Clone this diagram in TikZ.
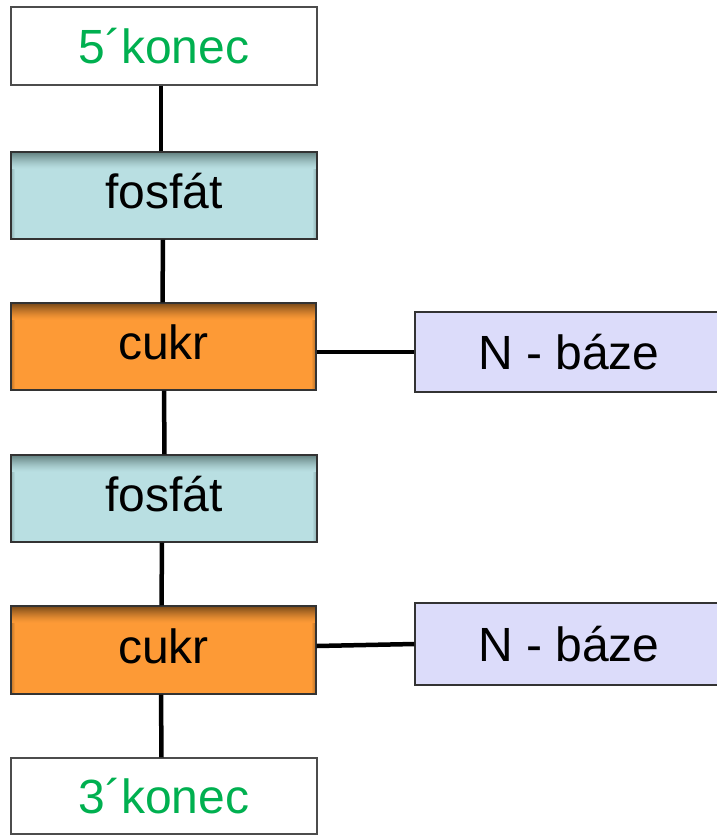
\documentclass[tikz,border=0pt]{standalone}
\usepackage{fontspec}
\setmainfont{Liberation Sans}
\definecolor{kgreen}{HTML}{00B050}
\definecolor{fosfill}{HTML}{B9DFE2}
\definecolor{fostop}{HTML}{62807F}
\definecolor{cukfill}{HTML}{FD9A36}
\definecolor{cuktop}{HTML}{774818}
\definecolor{nbfill}{HTML}{DCDCFA}
\definecolor{edgegray}{HTML}{333333}
\begin{document}
\begin{tikzpicture}[x=1pt,y=-1pt,
  box/.style={draw=edgegray, line width=1.2pt, rectangle, inner sep=0pt,
    font=\fontsize{48}{48}\selectfont, text height=35pt, text depth=0pt},
  endbox/.style={box, fill=white, text=kgreen, draw=black!70},
  shadowed/.style 2 args={fill=#1, path picture={
      \foreach \i in {0,...,3}{
        \pgfmathsetmacro\q{45*(1-\i/4)}
        \fill[#2!\q!#1] ([xshift=\i pt]path picture bounding box.north west) rectangle
          ([xshift=\i pt+1.1pt]path picture bounding box.south west);
        \fill[#2!\q!#1] ([xshift=-\i pt]path picture bounding box.north east) rectangle
          ([xshift=-\i pt-1.1pt]path picture bounding box.south east);
      }
      \foreach \i in {0,...,16}{
        \pgfmathsetmacro\p{100*(1-\i/17)^1.4}
        \fill[#2!\p!#1] ([yshift=-\i pt]path picture bounding box.north west) rectangle
          ([yshift=-\i pt-1.1pt]path picture bounding box.north east);
      }
    }},
  fosbox/.style={box, shadowed={fosfill}{fostop}, text height=26pt,
    minimum width=306pt, minimum height=87pt},
  cukbox/.style={box, shadowed={cukfill}{cuktop}, text height=26pt,
    minimum width=305pt, minimum height=87pt},
  nbbox/.style={box, fill=nbfill, minimum width=308pt},
  link/.style={line width=4.5pt, black}
]
\useasboundingbox (0,0) rectangle (716,835);
\node[endbox, minimum width=306pt, minimum height=78pt] (five) at (164,46) {5´konec};
\node[fosbox] (fos1) at (164,195.5) {fosfát};
\node[cukbox] (cuk1) at (163.5,346.5) {cukr};
\node[nbbox, minimum height=80pt] (nb1) at (569,352) {N - báze};
\node[fosbox] (fos2) at (164,498.5) {fosfát};
\node[cukbox, minimum height=88pt] (cuk2) at (163.5,650) {cukr};
\node[nbbox, minimum height=82pt] (nb2) at (569,644) {N - báze};
\node[endbox, minimum width=306pt, minimum height=76pt] (three) at (164,796) {3´konec};

\draw[link] ([xshift=-3pt]five.south) -- ([xshift=-3pt]fos1.north);
\draw[link] ([xshift=-1pt]fos1.south) -- ([xshift=-1pt]cuk1.north);
\draw[link] ([xshift=0.5pt]cuk1.south) -- ([xshift=0.5pt]fos2.north);
\draw[link] ([xshift=-2pt]fos2.south) -- ([xshift=-2pt]cuk2.north);
\draw[link] ([xshift=-2.5pt]cuk2.south) -- ([xshift=-2.5pt]three.north);
\draw[link] (cuk1.east |- nb1.west) -- (nb1.west);
\draw[link] ([yshift=-2pt]cuk2.east |- nb2.west) -- (nb2.west);
\end{tikzpicture}
\end{document}
